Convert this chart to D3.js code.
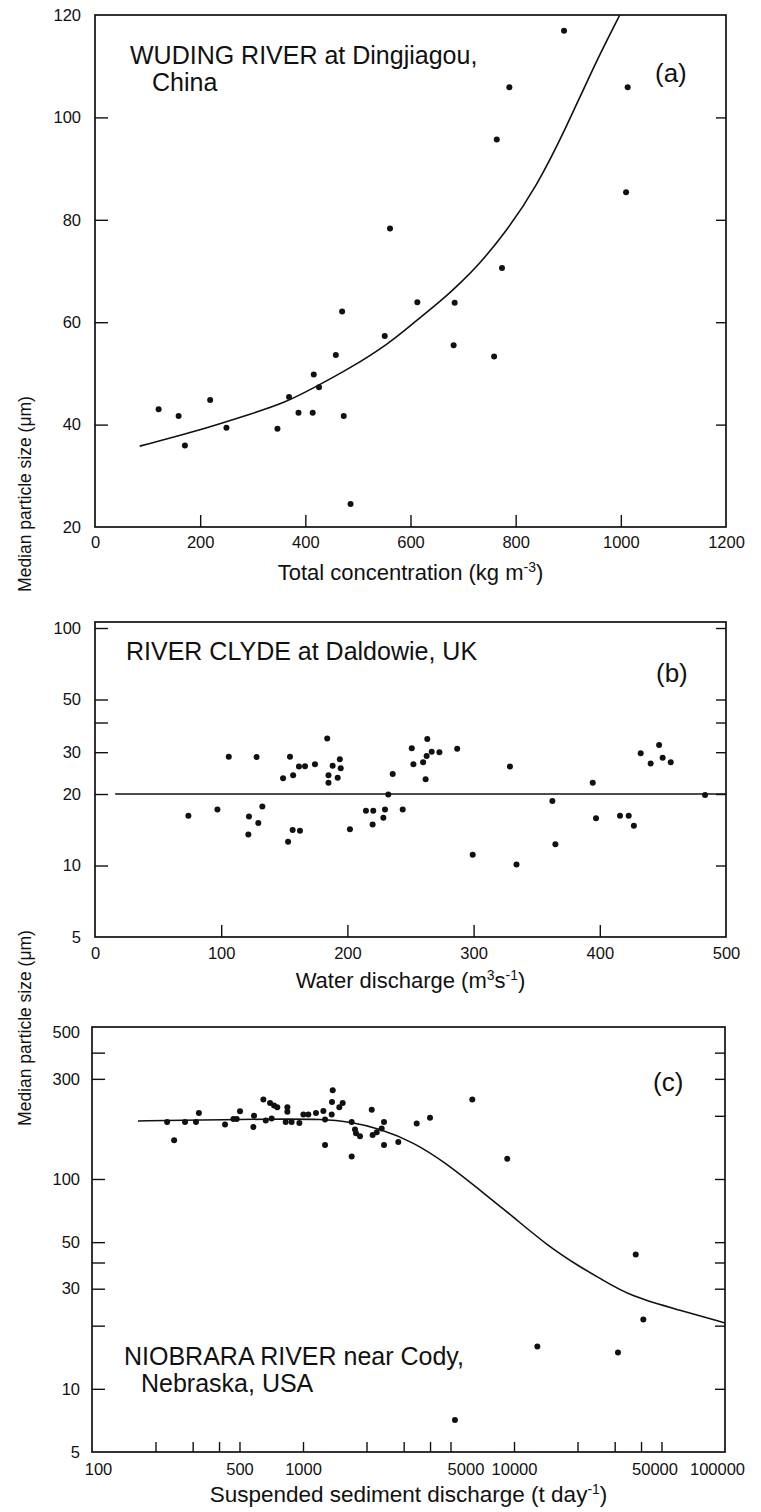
<!DOCTYPE html>
<html>
<head>
<meta charset="utf-8">
<script src="https://cdn.jsdelivr.net/npm/d3@7"></script>
<style>
  body { margin: 0; background: #fff; }
  svg { display: block; font-family: "Liberation Sans", Arial, Helvetica, sans-serif; }
</style>
</head>
<body>
<svg id="chart" width="761" height="1512"></svg>
<script>
// ---- panel (a): Wuding River, median size vs total concentration
const aConc = [121, 159, 171, 219, 250, 347, 369, 387, 414, 416, 426, 458, 470, 473, 486,
               551, 561, 613, 682, 684, 759, 764, 774, 788, 892, 1010, 1013];
const aSize = [43, 41.7, 35.9, 44.8, 39.4, 39.2, 45.4, 42.3, 42.3, 49.8, 47.3, 53.6, 62.1, 41.7, 24.5,
               57.3, 78.3, 63.9, 55.5, 63.8, 53.3, 95.7, 70.6, 105.9, 116.9, 85.4, 105.9];
// fitted curve
const aFitConc = [85, 190, 300, 360, 420, 485, 560, 605, 660, 700, 726, 780, 840, 897, 948, 998];
const aFitSize = [35.8, 38.6, 42.2, 44.2, 47.4, 51, 55.9, 59.8, 64.3, 68.2, 70.8, 77.4, 86.5, 98.2, 109.9, 120];
const aXLabels = [0, 200, 400, 600, 800, 1000, 1200];
const aXTicks = [200, 400, 600, 800, 1000];
const aYLabels = [20, 40, 60, 80, 100, 120];
const aYTicks = [40, 60, 80, 100];

// ---- panel (b): River Clyde, median size vs water discharge
const bFlow = [74, 97, 106, 122, 121.5, 128, 129.4, 132.6, 149, 153, 154.5, 156.6, 157, 161.6, 162.4,
               166.4, 174.3, 184, 185, 185, 188.3, 192.3, 194, 194.7, 202, 214.7, 220.5, 220, 228.5,
               229.8, 232.4, 235.9, 243.8, 251, 252.3, 260, 262, 262.8, 263.3, 266.8, 272.9, 287,
               299.3, 328.8, 334, 362.4, 364.8, 394.4, 397, 416, 422.9, 427, 432.4, 440.3, 447,
               449.8, 456.2, 483.4];
const bSize = [16.2, 17.2, 28.7, 16.1, 13.5, 28.6, 15.1, 17.7, 23.3, 12.6, 28.7, 14.1, 24, 26.1, 14,
               26.2, 26.7, 34.3, 24, 22.3, 26.3, 23.4, 28, 25.7, 14.2, 17, 17, 14.9, 15.9,
               17.2, 19.9, 24.3, 17.2, 31.2, 26.7, 27.2, 23.1, 28.9, 34.1, 30.1, 30, 31,
               11.1, 26.1, 10.1, 18.7, 12.3, 22.3, 15.8, 16.2, 16.2, 14.7, 29.7, 26.9, 32.2,
               28.4, 27.2, 19.8];
const bFitFlow = [16, 500];
const bFitSize = [20, 20];
const bXLabels = [0, 100, 200, 300, 400, 500];
const bXTicks = [100, 200, 300, 400];
const bYLabels = [5, 10, 20, 30, 50, 100];
const bYTicks = [10, 20, 30, 40, 50, 100];

// ---- panel (c): Niobrara River, median size vs suspended sediment discharge
const cLoad = [227, 245, 276, 311, 321, 427, 468, 485, 503, 582, 586, 649, 666, 698, 710, 729, 755,
               828, 843, 843, 883, 961, 1004, 1060, 1152, 1249, 1272, 1272, 1368, 1372, 1383, 1486,
               1542, 1701, 1701, 1764, 1783, 1863, 2117, 2138, 2236, 2360, 2421, 2421, 2829, 3458,
               3999, 5250, 6343, 9290, 12900, 31100, 37750, 41000];
const cSize = [187, 153, 187, 187, 206, 182, 193, 193, 210, 177, 200, 239, 190, 230, 194, 224, 220,
               187, 220, 209, 187, 185, 203, 203, 206, 211, 192, 145, 203, 233, 265, 220,
               230, 187, 128, 172, 165, 160, 214, 162, 167, 174, 187, 145, 150, 184,
               196, 7.1, 239, 125, 15.9, 14.9, 43.7, 21.4];
const cFitLoad = [165, 325, 673, 1272, 1670, 2317, 3331, 4800, 6900, 9924, 14290, 20560, 25560, 35840, 60900, 100000];
const cFitSize = [189, 191, 193, 193, 187, 174, 150, 118.5, 88.4, 66, 48.4, 38.1, 33.6, 27.5, 23.7, 20.6];
const cXLabels = [100, 500, 1000, 5000, 10000, 50000, 100000];
const cXTicks = [200, 300, 400, 500, 1000, 2000, 3000, 4000, 5000, 10000, 20000, 30000, 40000, 50000];
const cYLabels = [5, 10, 30, 50, 100, 300, 500];
const cYTicksLeft = [10, 20, 30, 40, 50, 100, 300, 400];
const cYTicksRight = [10, 20, 30, 40, 50, 100, 200, 300, 400];

const svg = d3.select("#chart");
svg.append("rect").attr("width", 761).attr("height", 1512).attr("fill", "#fff");

const ink = "#111";

// small helper to style an axis group the way the figure looks
function styleAxis(g, fontSize) {
    g.select(".domain").remove();
    g.selectAll("line").attr("stroke", ink).attr("stroke-width", 1.4);
    g.selectAll("text").attr("fill", ink).style("font-size", fontSize + "px")
        .style("font-family", '"Liberation Sans", Arial, sans-serif');
}

function drawPanel(p) {
    const x = p.x, y = p.y;
    const [x0, x1] = x.range();
    const [y0, y1] = y.range();

    // clip so the fitted curve stops at the frame
    svg.append("clipPath").attr("id", "clip-" + p.id)
        .append("rect").attr("x", x0).attr("y", y1).attr("width", x1 - x0).attr("height", y0 - y1);

    // ticks only (pointing inward)
    svg.append("g").attr("transform", `translate(${x0},0)`)
        .call(d3.axisLeft(y).tickValues(p.yTicksLeft).tickSize(-13).tickFormat(() => ""))
        .call(g => styleAxis(g, 16));
    svg.append("g").attr("transform", `translate(${x1},0)`)
        .call(d3.axisRight(y).tickValues(p.yTicksRight).tickSize(-10).tickFormat(() => ""))
        .call(g => styleAxis(g, 16));
    svg.append("g").attr("transform", `translate(0,${y0})`)
        .call(d3.axisBottom(x).tickValues(p.xTicks).tickSize(-p.bottomTick).tickFormat(() => ""))
        .call(g => styleAxis(g, 16));

    // tick labels only
    svg.append("g").attr("transform", `translate(${x0},0)`)
        .call(d3.axisLeft(y).tickValues(p.yLabels).tickSize(0).tickPadding(p.yPad).tickFormat(d => d))
        .call(g => styleAxis(g, 16.5));
    const xl = svg.append("g").attr("transform", `translate(0,${y0})`)
        .call(d3.axisBottom(x).tickValues(p.xLabels).tickSize(0).tickPadding(p.xPad).tickFormat(d => d))
        .call(g => styleAxis(g, 16.5));
    if (p.labelShift) {
        xl.selectAll(".tick text").attr("dx", d => p.labelShift[d] || 0);
    }

    // frame
    svg.append("rect")
        .attr("x", x0).attr("y", y1).attr("width", x1 - x0).attr("height", y0 - y1)
        .attr("fill", "none").attr("stroke", ink).attr("stroke-width", 1.7);

    // fitted line
    const fit = p.fitX.map((v, i) => [v, p.fitY[i]]);
    svg.append("path")
        .datum(fit)
        .attr("clip-path", `url(#clip-${p.id})`)
        .attr("fill", "none").attr("stroke", ink).attr("stroke-width", 1.6)
        .attr("d", d3.line().x(d => x(d[0])).y(d => y(d[1])).curve(d3.curveBasis));

    // data points
    const pts = p.px.map((v, i) => [v, p.py[i]]);
    svg.append("g").selectAll("circle")
        .data(pts).enter().append("circle")
        .attr("cx", d => x(d[0])).attr("cy", d => y(d[1]))
        .attr("r", 3).attr("fill", ink);

    // river name (one text per line) and panel letter
    p.title.forEach((line, i) => {
        svg.append("text")
            .attr("x", p.titlePos[0] + (i ? p.titleIndent : 0))
            .attr("y", p.titlePos[1] + i * 27)
            .attr("fill", ink).style("font-size", "25px").text(line);
    });
    svg.append("text").attr("x", p.letterPos[0]).attr("y", p.letterPos[1])
        .attr("fill", ink).style("font-size", "26px").text(p.letter);

    // x-axis title with superscripts
    const xt = svg.append("text").attr("x", (x0 + x1) / 2).attr("y", p.xTitleY)
        .attr("text-anchor", "middle").attr("fill", ink).style("font-size", p.xTitleSize + "px");
    let raised = false;
    p.xTitle.forEach(part => {
        const ts = xt.append("tspan");
        if (part.sup) {
            ts.attr("dy", raised ? 0 : -8).style("font-size", "14px").text(part.sup);
            raised = true;
        } else {
            ts.attr("dy", raised ? 8 : 0).text(part.t);
            raised = false;
        }
    });
}

drawPanel({
    id: "a",
    x: d3.scaleLinear().domain([0, 1200]).range([95, 726]),
    y: d3.scaleLinear().domain([20, 120]).range([527, 15]),
    px: aConc, py: aSize, fitX: aFitConc, fitY: aFitSize,
    xTicks: aXTicks, xLabels: aXLabels, yLabels: aYLabels,
    yTicksLeft: aYTicks, yTicksRight: aYTicks,
    bottomTick: 12, yPad: 14, xPad: 9,
    title: ["WUDING RIVER at Dingjiagou,", "China"], titlePos: [130, 64], titleIndent: 22,
    letter: "(a)", letterPos: [655, 82],
    xTitle: [{t: "Total concentration (kg m"}, {sup: "-3"}, {t: ")"}], xTitleY: 580, xTitleSize: 22
});

drawPanel({
    id: "b",
    x: d3.scaleLinear().domain([0, 500]).range([95, 726]),
    y: d3.scaleLog().domain([5, 106]).range([937, 622]),
    px: bFlow, py: bSize, fitX: bFitFlow, fitY: bFitSize,
    xTicks: bXTicks, xLabels: bXLabels, yLabels: bYLabels,
    yTicksLeft: bYTicks, yTicksRight: bYTicks,
    bottomTick: 12, yPad: 14, xPad: 10,
    title: ["RIVER CLYDE at Daldowie, UK"], titlePos: [126, 660], titleIndent: 0,
    letter: "(b)", letterPos: [656, 682],
    xTitle: [{t: "Water discharge (m"}, {sup: "3"}, {t: "s"}, {sup: "-1"}, {t: ")"}], xTitleY: 988, xTitleSize: 22
});

drawPanel({
    id: "c",
    x: d3.scaleLog().domain([100, 100000]).range([92, 725]),
    y: d3.scaleLog().domain([5, 530]).range([1452, 1027]),
    px: cLoad, py: cSize, fitX: cFitLoad, fitY: cFitSize,
    xTicks: cXTicks, xLabels: cXLabels, yLabels: cYLabels,
    yTicksLeft: cYTicksLeft, yTicksRight: cYTicksRight,
    bottomTick: 10, yPad: 12, xPad: 11,
    labelShift: {100: 6, 5000: 15, 50000: -7, 100000: -8},
    title: ["NIOBRARA RIVER near Cody,", "Nebraska, USA"], titlePos: [124, 1365], titleIndent: 17,
    letter: "(c)", letterPos: [653, 1091],
    xTitle: [{t: "Suspended sediment discharge (t day"}, {sup: "-1"}, {t: ")"}], xTitleY: 1502, xTitleSize: 22.5
});

// shared y-axis titles
[494, 1028].forEach(cy => {
    svg.append("text")
        .attr("transform", `translate(31,${cy}) rotate(-90)`)
        .attr("text-anchor", "middle").attr("fill", ink)
        .style("font-size", "17.5px")
        .text("Median particle size (\u03bcm)");
});
</script>
</body>
</html>
